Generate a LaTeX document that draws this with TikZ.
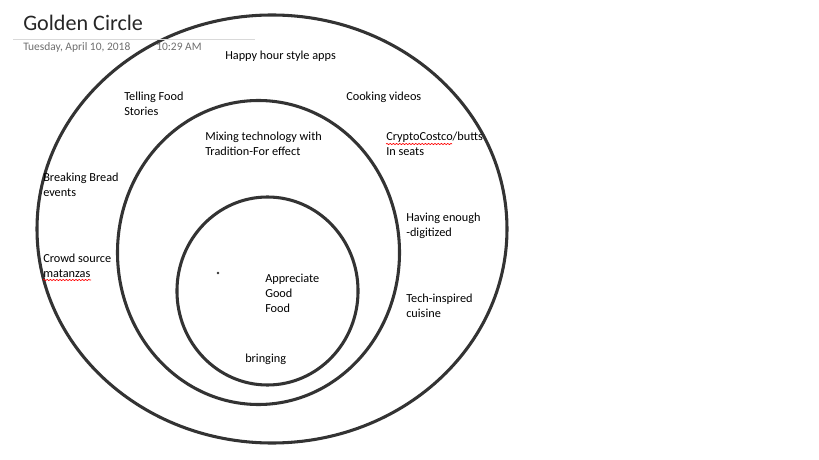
\documentclass[tikz,border=0pt]{standalone}
\usepackage{fontspec}
\setmainfont{Carlito}
\usetikzlibrary{decorations.pathmorphing}
\definecolor{ringgray}{HTML}{333333}
\definecolor{dategray}{HTML}{6E6E6E}
\definecolor{rulegray}{HTML}{D9D9D9}
\definecolor{titlegray}{HTML}{262626}
\begin{document}
\begin{tikzpicture}[x=0.75pt,y=-0.75pt,
  ring/.style={draw=ringgray, line width=2.3pt},
  lbl/.style={anchor=base west, inner sep=0pt, align=left, font=\fontsize{9.2}{11.25}\selectfont, text=black},
  datelbl/.style={anchor=base west, inner sep=0pt, font=\fontsize{8.6}{10}\selectfont, text=dategray},
  spell/.style={draw=red, line width=0.5pt, decorate, decoration={snake, amplitude=0.45pt, segment length=2.4pt}}]
\useasboundingbox (0,0) rectangle (819,460);
% rings
\draw[ring] (272,229) ellipse [x radius=176.25pt, y radius=160.5pt];
\draw[ring] (258.5,252.5) ellipse [x radius=105.75pt, y radius=114pt];
\draw[ring] (267.5,291) ellipse [x radius=67.9pt, y radius=70.5pt];
% header
\node[anchor=base west, inner sep=0pt, font=\fontsize{16.6}{20}\selectfont, text=titlegray] (title) at (23,31) {Golden Circle};
\draw[rulegray, line width=0.6pt] (13,39) -- (255,39);
\node[datelbl] (date) at (23,51) {Tuesday, April 10, 2018};
\node[datelbl] (time) at (156,51) {10:29 AM};
% labels (anchor = baseline of the last line)
\node[lbl] (happy) at (225,60) {Happy hour style apps};
\node[lbl] (telling) at (124,116) {Telling Food\\Stories};
\node[lbl] (cooking) at (346,101) {Cooking videos};
\node[lbl] (mixing) at (205,156) {Mixing technology with\\Tradition-For effect};
\node[lbl] (crypto) at (386,156) {CryptoCostco/butts\\In seats};
\node[lbl] (breaking) at (43,196) {Breaking Bread\\events};
\node[lbl] (having) at (406,237) {Having enough\\-digitized};
\node[lbl] (crowd) at (43,277) {Crowd source\\matanzas};
\node[lbl] (appreciate) at (265,312) {Appreciate\\Good\\Food};
\node[lbl] (tech) at (406,317) {Tech-inspired\\cuisine};
\node[lbl] (bringing) at (245,363) {bringing};
% dot
\fill[ringgray] (218,273) circle [radius=1.1pt];
% spell-check underlines
\coordinate (s1a) at (43,280);
\coordinate (s1b) at (91,280);
\coordinate (s2a) at (386,144);
\coordinate (s2b) at (452,144);
\draw[spell] (s1a) -- (s1b);
\draw[spell] (s2a) -- (s2b);
\end{tikzpicture}
\end{document}
